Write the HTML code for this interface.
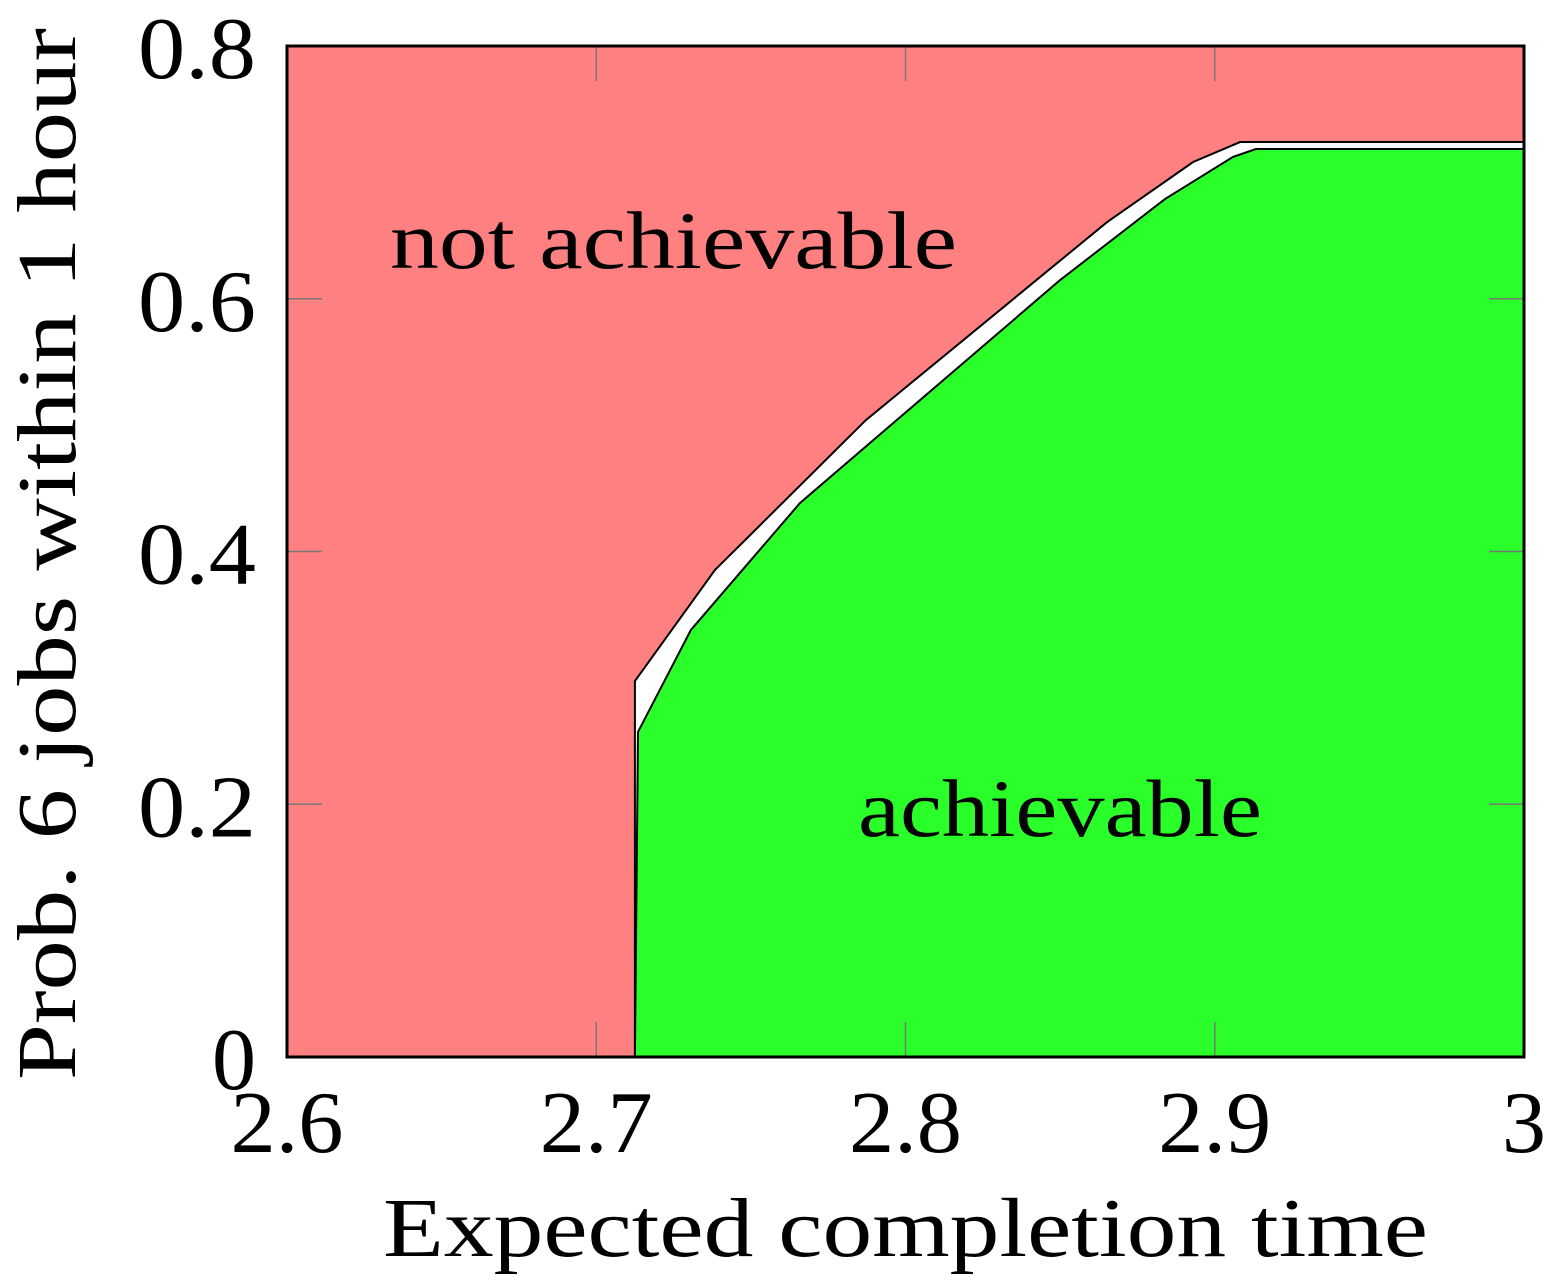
<!DOCTYPE html>
<html><head><meta charset="utf-8"><style>
html,body{margin:0;padding:0;background:#fff;}
svg{display:block;font-family:"Liberation Serif",serif;}
</style></head><body>
<svg id="chart" width="1550" height="1280">
<g id="plot"></g>
</svg>
<script>
const xTicks=[2.6,2.7,2.8,2.9,3];
const xTickLabels=["2.6","2.7","2.8","2.9","3"];
const yTicks=[0,0.2,0.4,0.6,0.8];
const yTickLabels=["0","0.2","0.4","0.6","0.8"];
const upperX=[2.7125,2.7125,2.7384,2.7872,2.8652,2.8930,2.9082,3.0];
const upperY=[0,0.2975,0.3854,0.5040,0.6607,0.7082,0.7240,0.7240];
const lowerX=[2.7125,2.7135,2.7306,2.7659,2.8500,2.8839,2.9059,2.9133,3.0];
const lowerY=[0,0.2572,0.3379,0.4384,0.6148,0.6789,0.7122,0.7185,0.7185];
const L=287,R=1524,T=46,B=1057;
const sx=v=>L+(v-2.6)/0.4*(R-L);
const sy=v=>B-v/0.8*(B-T);
const NS="http://www.w3.org/2000/svg";
const g=document.getElementById('plot');
function mk(t,a){const e=document.createElementNS(NS,t);for(const k in a)e.setAttribute(k,a[k]);g.appendChild(e);return e;}
let bg=mk('rect',{x:L,y:T,width:R-L,height:B-T,fill:'#ff8080'});


let up="M"+upperX.map((x,i)=>sx(x)+","+sy(upperY[i])).join(" L")+" L"+sx(3)+","+sy(0)+" Z";
let w=mk('path',{d:up,fill:'#fff',stroke:'#000','stroke-width':2});


let lo="M"+lowerX.map((x,i)=>sx(x)+","+sy(lowerY[i])).join(" L")+" L"+sx(3)+","+sy(0)+" Z";
let gr=mk('path',{d:lo,fill:'#2aff2a',stroke:'#000','stroke-width':2});


xTicks.forEach((v,i)=>{
 let t1=mk('line',{x1:sx(v),x2:sx(v),y1:B,y2:B-35,stroke:'#777','stroke-width':1.5});
 
 
 mk('line',{x1:sx(v),x2:sx(v),y1:T,y2:T+35,stroke:'#777','stroke-width':1.5});
 let s=xTickLabels[i];
 let tx=mk('text',{x:sx(v),y:1152,'font-size':88,'text-anchor':'middle'});
 if(s.length>1){tx.setAttribute('textLength',113);tx.setAttribute('lengthAdjust','spacingAndGlyphs');}
 tx.textContent=s;
 
 
});
yTicks.forEach((v,i)=>{
 let t1=mk('line',{x1:L,x2:L+35,y1:sy(v),y2:sy(v),stroke:'#777','stroke-width':1.5});
 
 
 mk('line',{x1:R,x2:R-35,y1:sy(v),y2:sy(v),stroke:'#777','stroke-width':1.5});
 let s=yTickLabels[i];
 let tx=mk('text',{x:256,y:sy(v)+32,'font-size':88,'text-anchor':'end'});
 if(s.length>1){tx.setAttribute('textLength',118);tx.setAttribute('lengthAdjust','spacingAndGlyphs');}
 tx.textContent=s;
 
 
});
let fr=mk('rect',{x:L,y:T,width:R-L,height:B-T,fill:'none',stroke:'#000','stroke-width':3});


let a1=mk('text',{x:390,y:268,'font-size':82,textLength:567,lengthAdjust:'spacingAndGlyphs'});a1.textContent='not achievable';


let a2=mk('text',{x:858,y:836,'font-size':82,textLength:404,lengthAdjust:'spacingAndGlyphs'});a2.textContent='achievable';


let xt=mk('text',{x:383,y:1256,'font-size':84,textLength:1045,lengthAdjust:'spacingAndGlyphs'});xt.textContent='Expected completion time';


let yt=mk('text',{x:0,y:0,'font-size':84,textLength:1052,lengthAdjust:'spacingAndGlyphs',transform:'translate(75,1080) rotate(-90)'});yt.textContent='Prob. 6 jobs within 1 hour';


</script>
</body></html>
